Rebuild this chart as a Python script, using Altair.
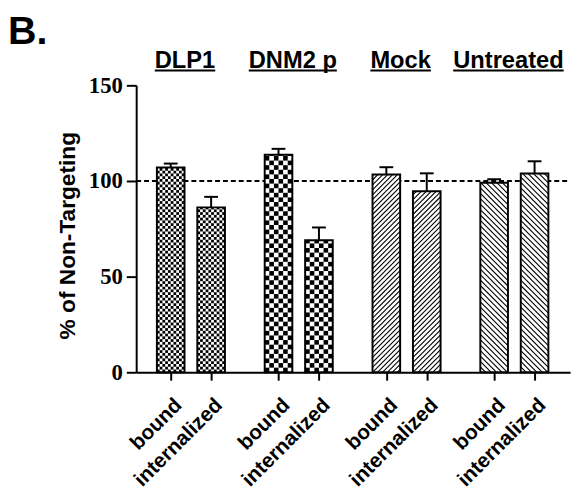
import math
import altair as alt
import pandas as pd

# ---------------- data ----------------
groups = ["DLP1", "DNM2 p", "Mock", "Untreated"]
conditions = ["bound", "internalized"]
mean_bound = [107.0, 113.7, 103.4, 99.1]
mean_internalized = [86.2, 69.0, 94.6, 103.9]
sem_bound = [2.1, 3.1, 3.8, 1.8]
sem_internalized = [5.5, 6.7, 9.4, 6.4]
ref_level = [100]
y_ticks = [0, 50, 100, 150]
panel_label = ["B."]

# ---------------- layout / style ----------------
W, H = 440, 291
Y_MAX = 150
PX_PER_UNIT = 41.0
FIRST_TICK_PX = 35.0
GROUP_STEP = 8 / 3
BAR_HALF_PX = 14
CAP_HALF_PX = 7
LABEL_SHIFT_PX = -6
X_MIN = -FIRST_TICK_PX / PX_PER_UNIT
X_MAX = (W - FIRST_TICK_PX) / PX_PER_UNIT
PX_PER_Y = H / Y_MAX
FONT = "Liberation Sans"
patterns = {
    "DLP1": ("checker", 2.8),
    "DNM2 p": ("checker", 28 / 6),
    "Mock": ("hatch_up", 5.0),
    "Untreated": ("hatch_down", 5.5),
}
ARIAL_BOLD = {"D": 722, "L": 611, "P": 667, "1": 556, "N": 722, "M": 833, "2": 556,
              " ": 278, "p": 611, "o": 611, "c": 556, "k": 556, "U": 722, "n": 611,
              "t": 333, "r": 389, "e": 556, "a": 556, "d": 611}

means = [mean_bound, mean_internalized]
sems = [sem_bound, sem_internalized]

rows = []
for g, grp in enumerate(groups):
    for i, cond in enumerate(conditions):
        m = means[i][g]
        e = sems[i][g]
        pos = g * GROUP_STEP + i
        rows.append(dict(group=grp, condition=cond, pos=pos,
                         xl=pos - BAR_HALF_PX / PX_PER_UNIT,
                         xr=pos + BAR_HALF_PX / PX_PER_UNIT,
                         base=0.0, mean=m, upper=m + e,
                         cl=pos - CAP_HALF_PX / PX_PER_UNIT,
                         cr=pos + CAP_HALF_PX / PX_PER_UNIT))
bars = pd.DataFrame(rows)

# pattern fills derived from each bar's value
cells, hatch = [], []
for r in rows:
    kind, s = patterns[r["group"]]
    Wpx = 2 * BAR_HALF_PX
    Hpx = r["mean"] * PX_PER_Y
    if kind == "checker":
        ncols = round(Wpx / s)
        nrows = math.ceil(Hpx / s)
        for rr in range(nrows):
            for kk in range(ncols):
                if (rr + kk) % 2 == 0:
                    y1 = rr * s
                    y2 = min((rr + 1) * s, Hpx)
                    if y2 > y1:
                        cells.append(dict(x1=r["xl"] + kk * s / PX_PER_UNIT,
                                          x2=r["xl"] + (kk + 1) * s / PX_PER_UNIT,
                                          y1=y1 / PX_PER_Y, y2=y2 / PX_PER_Y))
    elif kind == "hatch_up":
        k = math.floor(-Wpx / s)
        while k * s < Hpx:
            c = k * s
            u0, u1 = max(0.0, -c), min(Wpx, Hpx - c)
            if u1 > u0:
                hatch.append(dict(x1=r["xl"] + u0 / PX_PER_UNIT, x2=r["xl"] + u1 / PX_PER_UNIT,
                                  y1=(u0 + c) / PX_PER_Y, y2=(u1 + c) / PX_PER_Y))
            k += 1
    else:
        k = 1
        while k * s < Hpx + Wpx:
            c = k * s
            u0, u1 = max(0.0, c - Hpx), min(Wpx, c)
            if u1 > u0:
                hatch.append(dict(x1=r["xl"] + u0 / PX_PER_UNIT, x2=r["xl"] + u1 / PX_PER_UNIT,
                                  y1=(c - u0) / PX_PER_Y, y2=(c - u1) / PX_PER_Y))
            k += 1
cells = pd.DataFrame(cells)
hatch = pd.DataFrame(hatch)

lab_rows = []
for g, grp in enumerate(groups):
    center = g * GROUP_STEP + 0.5 + LABEL_SHIFT_PX / PX_PER_UNIT
    wpx = sum(ARIAL_BOLD.get(ch, 600) for ch in grp) / 1000 * 24
    lab_rows.append(dict(group=grp, center=center,
                         ul=center - wpx / 2 / PX_PER_UNIT, ur=center + wpx / 2 / PX_PER_UNIT))
labels = pd.DataFrame(lab_rows)

tick_positions = [g * GROUP_STEP + i for g in range(len(groups)) for i in range(len(conditions))]
label_expr = f"round(datum.value*3) % 8 == 0 ? '{conditions[0]}' : '{conditions[1]}'"

xscale = alt.Scale(domain=[X_MIN, X_MAX], nice=False, zero=False)
yscale = alt.Scale(domain=[0, Y_MAX], nice=False)
xaxis = alt.Axis(values=tick_positions, labelExpr=label_expr, title=None, grid=False,
                 domainColor="black", domainWidth=2, tickColor="black", tickWidth=2,
                 tickSize=8, labelAngle=-45, labelAlign="right", labelBaseline="top",
                 labelPadding=14, labelOffset=0, labelFont=FONT, labelFontSize=21,
                 labelFontWeight="bold", labelColor="black", labelOverlap=False,
                 labelFlush=False, labelBound=False)
yaxis = alt.Axis(values=y_ticks, title="% of Non-Targeting", grid=False,
                 domainColor="black", domainWidth=2, tickColor="black", tickWidth=2,
                 tickSize=10, labelPadding=4, labelFont="Liberation Sans Narrow",
                 labelFontSize=23, labelFontWeight="bold", labelColor="black",
                 titleFont=FONT, titleFontSize=23, titleFontWeight="bold",
                 titleColor="black", titleX=-58, titleY=152, titleAlign="center",
                 titleBaseline="bottom", titleAngle=270)


def X(f):
    return alt.X(f, scale=xscale, axis=xaxis)


def Y(f):
    return alt.Y(f, scale=yscale, axis=yaxis)


ref = alt.Chart(pd.DataFrame({"ref": ref_level})).mark_rule(
    color="black", strokeWidth=2, strokeDash=[5, 3]
).encode(y=Y("ref:Q"), x=alt.value(0), x2=alt.value(W))

white = alt.Chart(bars).mark_rect(fill="white", strokeWidth=0).encode(
    x=X("xl:Q"), x2="xr", y=Y("base:Q"), y2="mean")

checker = alt.Chart(cells).mark_rect(fill="black", strokeWidth=0).encode(
    x=X("x1:Q"), x2="x2", y=Y("y1:Q"), y2="y2")

hatching = alt.Chart(hatch).mark_rule(color="black", strokeWidth=1.1).encode(
    x=X("x1:Q"), x2="x2", y=Y("y1:Q"), y2="y2")

outline = alt.Chart(bars).mark_rect(fillOpacity=0, stroke="black", strokeWidth=2).encode(
    x=X("xl:Q"), x2="xr", y=Y("base:Q"), y2="mean")

stems = alt.Chart(bars).mark_rule(color="black", strokeWidth=2).encode(
    x=X("pos:Q"), y=Y("mean:Q"), y2="upper")

caps = alt.Chart(bars).mark_rule(color="black", strokeWidth=2).encode(
    x=X("cl:Q"), x2="cr", y=Y("upper:Q"))

group_text = alt.Chart(labels).mark_text(
    font=FONT, fontSize=24, fontWeight="bold", color="black", baseline="alphabetic", align="center"
).encode(x=X("center:Q"), y=alt.value(-18), text="group:N")

underline = alt.Chart(labels).mark_rule(color="black", strokeWidth=2).encode(
    x=X("ul:Q"), x2="ur", y=alt.value(-15))

panel = alt.Chart(pd.DataFrame({"t": panel_label})).mark_text(
    font=FONT, fontSize=40, fontWeight="bold", color="black", align="left", baseline="alphabetic"
).encode(x=alt.value(-130), y=alt.value(-42), text="t:N")

chart = alt.layer(ref, white, checker, hatching, outline, stems, caps,
                  group_text, underline, panel).properties(
    width=W, height=H,
    autosize=alt.AutoSizeParams(type="none"),
    padding={"left": 130, "top": 75, "right": 5, "bottom": 119},
    background="white",
).configure_view(stroke=None)

chart.save("out.html", embed_options={"renderer": "svg", "actions": False})
